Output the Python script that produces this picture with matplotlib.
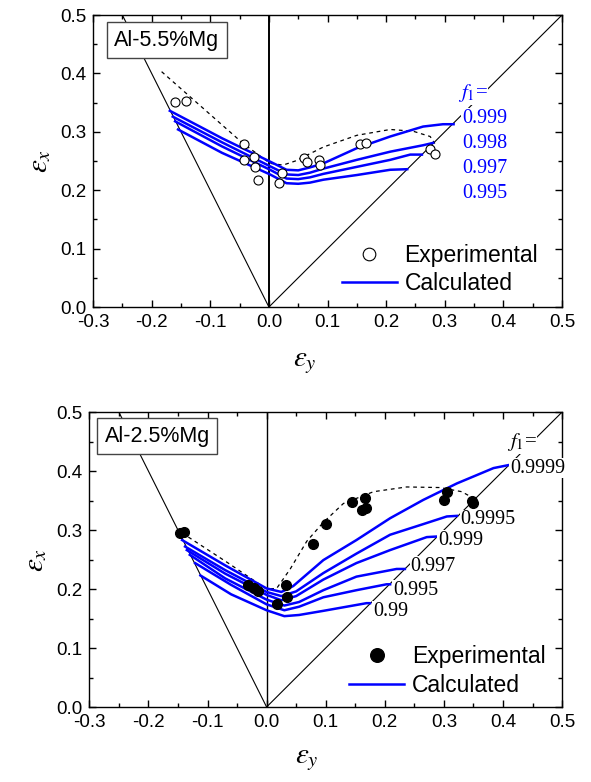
import matplotlib.pyplot as plt
from matplotlib.ticker import MultipleLocator, FormatStrFormatter

plt.rc('font', family='Liberation Sans', size=13.5)
plt.rc('axes', linewidth=1.0, unicode_minus=False)
plt.rc('mathtext', fontset='stix')
plt.rc('xtick', direction='in', top=True, labelsize=13.5)
plt.rc('ytick', direction='in', right=True, labelsize=13.5)
plt.rc('xtick.major', size=5, width=1.0, pad=5)
plt.rc('ytick.major', size=5, width=1.0, pad=5)
plt.rc('xtick.minor', size=3, width=1.0)
plt.rc('ytick.minor', size=3, width=1.0)

# reference strain paths (uniaxial and equibiaxial)
uni_x = [-0.25, 0.0]
uni_y = [0.5, 0.0]
equi_x = [0.0, 0.5]
equi_y = [0.0, 0.5]

#=========================
# Al-5.5%Mg
#=========================
exp55_x = [-0.160, -0.141, -0.042, -0.026, -0.043, -0.023, -0.019, 0.023, 0.018,
           0.060, 0.065, 0.086, 0.087, 0.155, 0.166, 0.275, 0.283]
exp55_y = [0.351, 0.352, 0.279, 0.257, 0.252, 0.240, 0.218, 0.230, 0.212,
           0.255, 0.249, 0.251, 0.243, 0.279, 0.281, 0.270, 0.262]

dash55_x = [-0.183, -0.044, 0.002, 0.024, 0.045, 0.093, 0.150, 0.207, 0.246, 0.275, 0.283]
dash55_y = [0.403, 0.280, 0.246, 0.243, 0.250, 0.274, 0.294, 0.304, 0.301, 0.292, 0.280]

f55_labels = ['0.999', '0.998', '0.997', '0.995']
calc55_x = [
    [-0.169, -0.080, 0.002, 0.030, 0.050, 0.070, 0.093, 0.150, 0.207, 0.263, 0.297, 0.315],
    [-0.164, -0.080, 0.002, 0.030, 0.050, 0.070, 0.093, 0.150, 0.207, 0.263, 0.280],
    [-0.160, -0.080, 0.002, 0.030, 0.050, 0.070, 0.093, 0.150, 0.207, 0.241, 0.261],
    [-0.155, -0.080, 0.002, 0.030, 0.050, 0.070, 0.093, 0.150, 0.207, 0.236],
]
calc55_y = [
    [0.336, 0.289, 0.249, 0.235, 0.234, 0.239, 0.246, 0.272, 0.292, 0.309, 0.313, 0.313],
    [0.326, 0.282, 0.241, 0.227, 0.226, 0.230, 0.237, 0.252, 0.266, 0.277, 0.281],
    [0.318, 0.275, 0.235, 0.220, 0.219, 0.222, 0.228, 0.240, 0.252, 0.261, 0.261],
    [0.304, 0.264, 0.227, 0.212, 0.211, 0.213, 0.218, 0.226, 0.235, 0.236],
]
lab55_x = [0.329, 0.329, 0.329, 0.329]
lab55_y = [0.323, 0.280, 0.238, 0.195]

#=========================
# Al-2.5%Mg
#=========================
exp25_x = [-0.146, -0.140, -0.031, -0.022, -0.014, 0.017, 0.033, 0.035, 0.079, 0.100,
           0.144, 0.166, 0.161, 0.168, 0.305, 0.301, 0.347, 0.349]
exp25_y = [0.295, 0.297, 0.207, 0.201, 0.197, 0.174, 0.207, 0.186, 0.277, 0.310,
           0.347, 0.354, 0.334, 0.337, 0.365, 0.351, 0.350, 0.346]

dash25_x = [-0.143, -0.068, 0.000, 0.017, 0.040, 0.068, 0.096, 0.130, 0.181, 0.237,
            0.293, 0.330, 0.350]
dash25_y = [0.295, 0.246, 0.200, 0.201, 0.234, 0.281, 0.313, 0.345, 0.365, 0.373,
            0.372, 0.365, 0.354]

f25_labels = ['0.9999', '0.9995', '0.999', '0.997', '0.995', '0.99']
calc25_x = [
    [-0.143, -0.070, 0.000, 0.025, 0.045, 0.096, 0.152, 0.209, 0.265, 0.322, 0.384, 0.409],
    [-0.138, -0.070, 0.000, 0.025, 0.050, 0.096, 0.152, 0.209, 0.265, 0.305, 0.322],
    [-0.135, -0.070, 0.000, 0.025, 0.050, 0.096, 0.152, 0.209, 0.271, 0.288],
    [-0.130, -0.070, 0.000, 0.030, 0.055, 0.096, 0.152, 0.220, 0.234],
    [-0.121, -0.060, 0.000, 0.030, 0.055, 0.096, 0.152, 0.203, 0.209],
    [-0.112, -0.060, 0.000, 0.030, 0.055, 0.096, 0.169, 0.175],
]
calc25_y = [
    [0.283, 0.240, 0.201, 0.195, 0.205, 0.249, 0.283, 0.320, 0.351, 0.379, 0.405, 0.410],
    [0.272, 0.232, 0.195, 0.188, 0.196, 0.227, 0.260, 0.292, 0.310, 0.323, 0.324],
    [0.266, 0.226, 0.190, 0.181, 0.188, 0.216, 0.244, 0.266, 0.288, 0.289],
    [0.258, 0.218, 0.182, 0.172, 0.178, 0.198, 0.221, 0.234, 0.234],
    [0.244, 0.207, 0.174, 0.164, 0.170, 0.186, 0.198, 0.208, 0.208],
    [0.223, 0.191, 0.164, 0.154, 0.156, 0.163, 0.176, 0.176],
]
lab25_x = [0.412, 0.328, 0.290, 0.243, 0.214, 0.180]
lab25_y = [0.405, 0.317, 0.283, 0.238, 0.198, 0.162]

fig = plt.figure(figsize=(5.91, 7.82), dpi=100)
ax1 = fig.add_axes([0.1574, 0.6074, 0.7936, 0.3734])
ax2 = fig.add_axes([0.1511, 0.0959, 0.8000, 0.3772])


def setup(ax):
    ax.set_xlim(-0.3, 0.5)
    ax.set_ylim(0.0, 0.5)
    ax.xaxis.set_major_locator(MultipleLocator(0.1))
    ax.xaxis.set_minor_locator(MultipleLocator(0.05))
    ax.yaxis.set_major_locator(MultipleLocator(0.1))
    ax.yaxis.set_minor_locator(MultipleLocator(0.05))
    ax.xaxis.set_major_formatter(FormatStrFormatter('%.1f'))
    ax.yaxis.set_major_formatter(FormatStrFormatter('%.1f'))
    ax.set_ylabel(r'$\varepsilon_x$', fontsize=21, labelpad=5)


#=========================
# top panel
#=========================
setup(ax1)
ax1.plot(uni_x, uni_y, color='black', lw=0.8)
ax1.plot(equi_x, equi_y, color='black', lw=0.8)
ax1.axvline(0, color='black', lw=1.4)
ax1.plot(dash55_x, dash55_y, color='black', lw=0.9, ls=(0, (3, 3)))
for i in range(len(calc55_x)):
    ax1.plot(calc55_x[i], calc55_y[i], color='#0000ff', lw=1.8,
             label='Calculated' if i == 0 else None)
ax1.plot(exp55_x, exp55_y, 'o', mfc='white', mec='black', mew=0.8, ms=6.5,
         label='Experimental', zorder=5)
ax1.text(0.3225, 0.366, r'$f_1$=', color='#0000ff', fontsize=15, va='center',
         family='Liberation Serif', bbox=dict(facecolor='white', edgecolor='none', pad=0.5), zorder=6)
for i in range(len(f55_labels)):
    ax1.text(lab55_x[i], lab55_y[i], f55_labels[i], color='#0000ff', fontsize=14.5,
             va='center', family='Liberation Serif',
             bbox=dict(facecolor='white', edgecolor='none', pad=0.5), zorder=6)
ax1.text(0.157, 0.914, 'Al-5.5%Mg', transform=ax1.transAxes, ha='center', va='center',
         fontsize=15.5, bbox=dict(boxstyle='square,pad=0.35', facecolor='white', edgecolor='#444444'))
ax1.set_xlabel(r'$\varepsilon_y$', fontsize=21)
ax1.xaxis.set_label_coords(0.452, -0.14)

# legend order: Experimental first
h, l = ax1.get_legend_handles_labels()
ax1.legend(h[::-1], l[::-1], loc='lower left', bbox_to_anchor=(0.53, 0.04), frameon=False,
           fontsize=16.5, handlelength=2.4, handletextpad=0.35, borderpad=0,
           labelspacing=0.25, markerscale=1.4, borderaxespad=0)

#=========================
# bottom panel
#=========================
setup(ax2)
ax2.plot(uni_x, uni_y, color='black', lw=0.8)
ax2.plot(equi_x, equi_y, color='black', lw=0.8)
ax2.axvline(0, color='black', lw=1.0)
ax2.plot(dash25_x, dash25_y, color='black', lw=0.9, ls=(0, (3, 3)))
for i in range(len(calc25_x)):
    ax2.plot(calc25_x[i], calc25_y[i], color='#0000ff', lw=1.8,
             label='Calculated' if i == 0 else None)
ax2.plot(exp25_x, exp25_y, 'o', mfc='black', mec='black', ms=7,
         label='Experimental', zorder=5)
ax2.text(0.406, 0.449, r'$f_1$=', color='black', fontsize=15, va='center',
         family='Liberation Serif', bbox=dict(facecolor='white', edgecolor='none', pad=0.5), zorder=6)
for i in range(len(f25_labels)):
    ax2.text(lab25_x[i], lab25_y[i], f25_labels[i], color='black', fontsize=14.5,
             va='center', family='Liberation Serif',
             bbox=dict(facecolor='white', edgecolor='none', pad=0.5), zorder=6)
ax2.text(0.1436, 0.918, 'Al-2.5%Mg', transform=ax2.transAxes, ha='center', va='center',
         fontsize=15.5, bbox=dict(boxstyle='square,pad=0.35', facecolor='white', edgecolor='#444444'))
h, l = ax2.get_legend_handles_labels()
ax2.legend(h[::-1], l[::-1], loc='lower left', bbox_to_anchor=(0.55, 0.035), frameon=False,
           fontsize=16.5, handlelength=2.4, handletextpad=0.35, borderpad=0,
           labelspacing=0.25, markerscale=1.4, borderaxespad=0)
ax2.set_xlabel(r'$\varepsilon_y$', fontsize=21)
ax2.xaxis.set_label_coords(0.46, -0.13)

plt.savefig('out.png', dpi=100)
